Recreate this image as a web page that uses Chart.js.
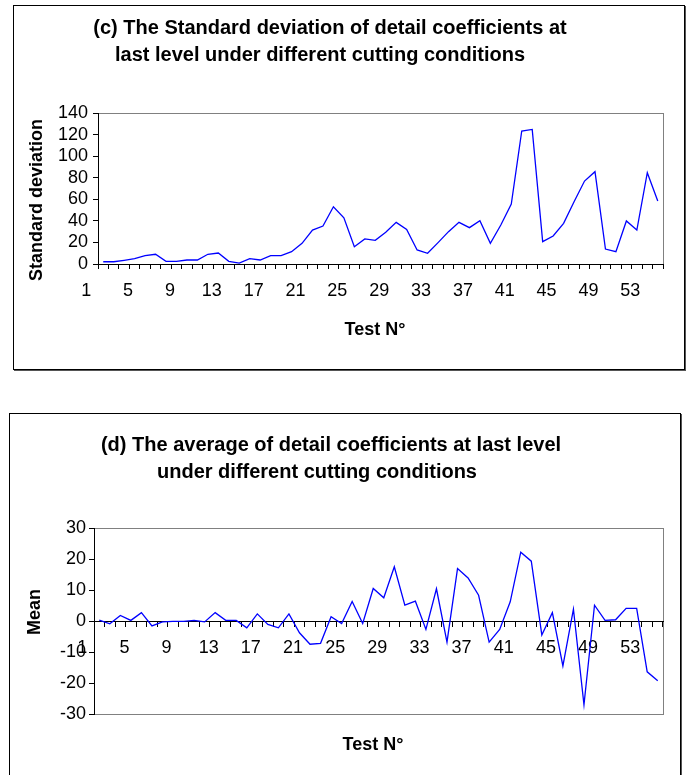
<!DOCTYPE html>
<html>
<head>
<meta charset="utf-8">
<script src="https://cdn.jsdelivr.net/npm/chart.js@4.4.1/dist/chart.umd.min.js"></script>
<style>
    html, body { margin: 0; padding: 0; background: #fff; }
    body { width: 689px; height: 775px; position: relative; overflow: hidden; }
    .frame {
        position: absolute;
        box-sizing: border-box;
        border: 1px solid #000;
        box-shadow: 1px 1px 0 #555;
    }
    canvas { position: absolute; left: 0; }
</style>
</head>
<body>
<div class="frame" style="left:13px; top:5px; width:672px; height:365px;"></div>
<div class="frame" style="left:9px; top:413px; width:672px; height:400px;"></div>
<canvas id="stdChart" width="689" height="380" style="top:0px;"></canvas>
<canvas id="meanChart" width="689" height="375" style="top:400px;"></canvas>

<script>
// ===== data =====
const testLabels = ['1', '2', '3', '4', '5', '6', '7', '8', '9', '10',
    '11', '12', '13', '14', '15', '16', '17', '18', '19', '20',
    '21', '22', '23', '24', '25', '26', '27', '28', '29', '30',
    '31', '32', '33', '34', '35', '36', '37', '38', '39', '40',
    '41', '42', '43', '44', '45', '46', '47', '48', '49', '50',
    '51', '52', '53', '54'];

// (c) standard deviation of detail coefficients
const stdDev = [2.1, 2.1, 3.4, 4.9, 7.7, 9.0, 2.5, 2.5, 3.7, 3.7,
    9.0, 10.2, 2.5, 0.9, 4.9, 3.7, 7.7, 7.7, 11.4, 19.2,
    31.5, 35.2, 53.1, 42.9, 16.0, 23.2, 22.0, 29.4, 38.6, 32.1,
    13.0, 9.9, 19.8, 30.0, 38.6, 33.7, 40.2, 19.2, 36.2, 55.6,
    123.3, 124.8, 20.7, 26.0, 37.7, 57.8, 76.9, 85.6, 13.9, 11.4,
    39.9, 31.5, 84.6, 58.4];

// (d) mean of detail coefficients
const meanCoef = [0.3, -0.9, 1.8, 0.2, 2.7, -1.6, -0.3, -0.1, -0.1, 0.2,
    -0.3, 2.7, 0.2, 0.2, -2.2, 2.3, -1.1, -2.2, 2.3, -3.8,
    -7.5, -7.2, 1.4, -0.8, 6.3, -0.8, 10.5, 7.5, 17.5, 5.1,
    6.4, -2.7, 10.4, -6.8, 16.9, 13.9, 8.3, -6.8, -2.7, 6.2,
    22.2, 19.3, -4.5, 2.7, -14.5, 3.8, -27.0, 5.1, 0.2, 0.4,
    4.1, 4.1, -16.4, -19.3];

const stdRange = [0, 140, 20];   // min, max, step
const meanRange = [-30, 30, 10];

const FONT = 'Arial, "Liberation Sans", sans-serif';

// free text (titles) drawn on top of the chart
const freeText = {
    id: 'freeText',
    afterDraw(chart, args, opts) {
        const ctx = chart.ctx;
        (opts.items || []).forEach(it => {
            ctx.save();
            ctx.font = it.font;
            ctx.fillStyle = '#000';
            ctx.textAlign = 'center';
            ctx.textBaseline = 'middle';
            ctx.translate(it.x, it.y);
            if (it.rotate) ctx.rotate(it.rotate);
            ctx.fillText(it.text, 0, 0);
            ctx.restore();
        });
    }
};

// grey box round the plot area
const plotFrame = {
    id: 'plotFrame',
    beforeDraw(chart) {
        const { ctx, chartArea: a } = chart;
        ctx.save();
        ctx.strokeStyle = '#808080';
        ctx.lineWidth = 1;
        ctx.strokeRect(Math.round(a.left) + 0.5, Math.round(a.top) + 0.5,
            Math.round(a.right - a.left), Math.round(a.bottom - a.top));
        ctx.restore();
    }
};

function xAxis(extra) {
    return Object.assign({
        type: 'category',
        offset: true,
        grid: { offset: true, drawOnChartArea: false, drawTicks: true, tickLength: 5, color: '#000' },
        border: { display: true, color: '#000', width: 1 },
        ticks: {
            autoSkip: false,
            maxRotation: 0,
            minRotation: 0,
            padding: 11,
            labelOffset: -17,
            color: '#000',
            font: { family: FONT, size: 18 },
            callback: (v, i) => (i % 4 === 0 ? testLabels[i] : '')
        }
    }, extra);
}

function yAxis(range, pad, width) {
    return {
        min: range[0],
        max: range[1],
        grid: { drawOnChartArea: false, drawTicks: true, tickLength: 5, color: '#000' },
        border: { display: true, color: '#000', width: 1 },
        ticks: {
            stepSize: range[2],
            autoSkip: false,
            padding: pad,
            color: '#000',
            font: { family: FONT, size: 18 }
        },
        afterFit: s => { s.width = width; }
    };
}

function lineSet(values) {
    return {
        data: values,
        borderColor: '#0000ff',
        borderWidth: 1.3,
        pointRadius: 0,
        tension: 0,
        fill: false
    };
}

const bold20 = 'bold 20px ' + FONT;
const bold18 = 'bold 18px ' + FONT;

new Chart(document.getElementById('stdChart'), {
    type: 'line',
    data: { labels: testLabels, datasets: [lineSet(stdDev)] },
    plugins: [plotFrame, freeText],
    options: {
        responsive: false,
        animation: false,
        layout: { padding: { top: 113, right: 26, bottom: 0, left: 0 } },
        scales: {
            x: xAxis({ afterFit: s => { s.height = 116; } }),
            y: yAxis(stdRange, 5, 98)
        },
        plugins: {
            legend: { display: false },
            tooltip: { enabled: false },
            freeText: {
                items: [
                    { text: '(c) The Standard deviation of detail coefficients at', x: 330, y: 28, font: bold20 },
                    { text: 'last level under different cutting conditions', x: 320, y: 55, font: bold20 },
                    { text: 'Test N°', x: 375, y: 330, font: bold18 },
                    { text: 'Standard deviation', x: 37, y: 200, font: bold18, rotate: -Math.PI / 2 }
                ]
            }
        }
    }
});

new Chart(document.getElementById('meanChart'), {
    type: 'line',
    data: { labels: testLabels, datasets: [lineSet(meanCoef)] },
    plugins: [plotFrame, freeText],
    options: {
        responsive: false,
        animation: false,
        layout: { padding: { top: 128, right: 26, bottom: 61, left: 0 } },
        scales: {
            x: xAxis({ position: { y: 0 } }),
            y: yAxis(meanRange, 3, 94)
        },
        plugins: {
            legend: { display: false },
            tooltip: { enabled: false },
            freeText: {
                items: [
                    { text: '(d) The average of detail coefficients at last level', x: 331, y: 45, font: bold20 },
                    { text: 'under different cutting conditions', x: 317, y: 72, font: bold20 },
                    { text: 'Test N°', x: 373, y: 345, font: bold18 },
                    { text: 'Mean', x: 35, y: 212, font: bold18, rotate: -Math.PI / 2 }
                ]
            }
        }
    }
});
</script>
</body>
</html>
